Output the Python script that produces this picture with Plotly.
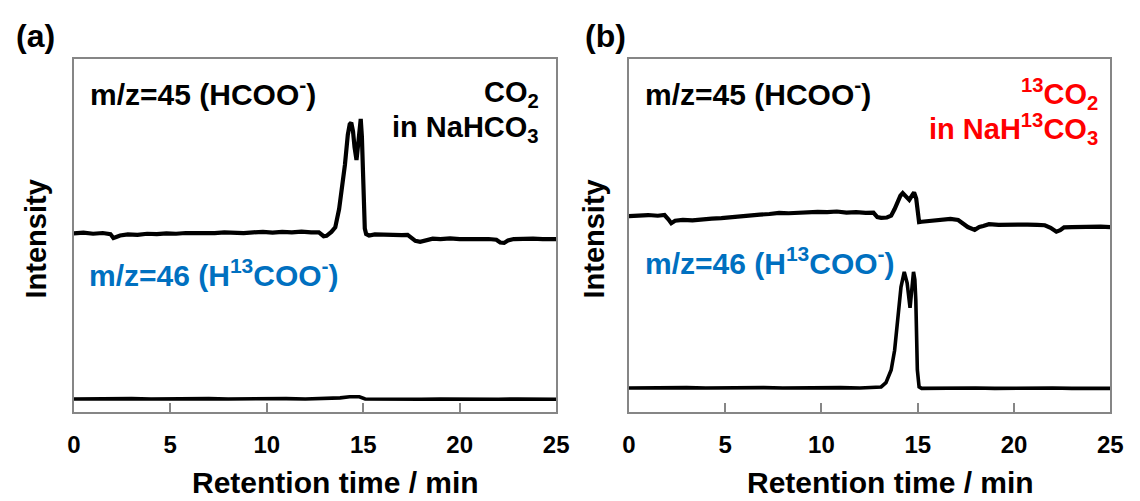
import plotly.graph_objects as go

# ---- chromatogram data (retention time in min, intensity in arbitrary units) ----
time_a45 = [0.0, 0.5, 1.0, 1.5, 1.9, 2.05, 2.2, 2.4, 2.8, 3.3, 3.8, 4.3, 4.8, 5.3, 5.8, 6.3,
            6.8, 7.3, 7.8, 8.3, 8.8, 9.3, 9.8, 10.3, 10.8, 11.3, 11.8, 12.3, 12.7, 12.95, 13.1,
            13.35, 13.55, 13.75, 13.9, 14.05, 14.2, 14.3, 14.38, 14.47, 14.55, 14.65, 14.73,
            14.8, 14.87, 14.93, 14.98, 15.03, 15.08, 15.15, 15.3, 15.6, 16.0, 16.5, 17.0, 17.3,
            17.5, 17.7, 17.95, 18.2, 18.6, 19.0, 19.5, 20.0, 20.5, 21.0, 21.5, 21.9, 22.1, 22.3,
            22.5, 22.8, 23.3, 23.8, 24.3, 24.8, 25.0]
int_a45 = [50.6, 50.8, 50.5, 50.7, 50.4, 49.3, 49.6, 50.0, 50.3, 50.2, 50.5, 50.4, 50.6, 50.5,
           50.7, 50.6, 50.8, 50.7, 50.9, 50.8, 50.7, 50.9, 51.0, 50.8, 51.0, 50.9, 51.1, 50.9,
           50.9, 49.8, 49.9, 51.0, 52.3, 57.5, 63.5, 70.0, 78.5, 81.5, 82.0, 79.5, 75.0, 71.4,
           75.5, 81.0, 83.0, 78.0, 68.0, 58.0, 52.0, 50.4, 50.0, 50.3, 50.2, 50.3, 50.1, 50.2,
           49.4, 48.5, 48.2, 48.6, 49.1, 49.0, 49.2, 49.0, 49.1, 48.9, 49.0, 48.8, 48.0, 47.9,
           48.6, 49.0, 48.9, 49.1, 49.0, 49.1, 49.0]

time_a46 = [0, 1, 2, 3, 4, 5, 6, 7, 8, 9, 10, 11, 12, 13, 13.8, 14.3, 14.8, 15.1, 16, 17, 18,
            19, 20, 21, 22, 23, 24, 25]
int_a46 = [3.7, 3.8, 3.7, 3.8, 3.7, 3.8, 3.7, 3.8, 3.7, 3.8, 3.7, 3.8, 3.7, 3.8, 4.0, 4.3, 4.3,
           3.7, 3.6, 3.7, 3.6, 3.7, 3.6, 3.7, 3.6, 3.7, 3.6, 3.6]

time_b45 = [0.0, 0.5, 1.0, 1.5, 1.85, 2.05, 2.2, 2.4, 2.8, 3.3, 3.8, 4.3, 4.8, 5.3, 5.8, 6.3,
            6.8, 7.3, 7.8, 8.3, 8.8, 9.3, 9.8, 10.3, 10.8, 11.3, 11.8, 12.3, 12.7, 12.9, 13.1,
            13.4, 13.62, 13.8, 13.96, 14.1, 14.22, 14.4, 14.56, 14.7, 14.81, 14.92, 14.98,
            15.07, 15.2, 15.5, 16.0, 16.7, 17.1, 17.35, 17.6, 17.96, 18.2, 18.4, 18.7, 19.2,
            19.7, 20.2, 20.7, 21.2, 21.6, 21.9, 22.2, 22.4, 22.6, 23.0, 23.5, 24.0, 24.5, 25.0]
int_b45 = [55.5, 55.7, 55.8, 55.6, 55.8, 54.6, 53.5, 54.2, 54.4, 54.3, 54.6, 54.8, 54.9, 55.2,
           55.4, 55.6, 55.9, 56.1, 56.4, 56.3, 56.5, 56.4, 56.7, 56.6, 56.8, 56.5, 56.6, 56.4,
           56.5, 55.2, 55.0, 55.1, 55.6, 57.5, 59.5, 61.3, 62.0, 60.8, 60.1, 61.3, 62.2, 60.5,
           56.7, 53.8, 53.9, 54.1, 54.4, 54.7, 54.4, 53.5, 52.4, 51.6, 52.4, 52.7, 53.2, 53.0,
           53.1, 52.9, 53.1, 53.0, 52.9, 52.2, 51.1, 51.5, 52.3, 52.4, 52.5, 52.3, 52.5, 52.4]

time_b46 = [0, 1, 2, 3, 4, 5, 6, 7, 8, 9, 10, 11, 12, 12.8, 13.1, 13.35, 13.62, 13.8, 13.96,
            14.13, 14.3, 14.45, 14.6, 14.7, 14.78, 14.85, 14.9, 14.98, 15.07, 15.2, 16, 17, 18,
            19, 20, 21, 22, 23, 24, 25]
int_b46 = [6.8, 6.9, 6.8, 6.9, 6.8, 6.9, 6.8, 6.9, 6.8, 6.9, 6.8, 6.9, 6.8, 6.9, 7.1, 8.3, 11.9,
           17.5, 26.1, 35.4, 39.7, 36.5, 29.5, 34.0, 39.7, 37.5, 31.7, 11.9, 7.1, 6.7, 6.8, 6.7,
           6.8, 6.7, 6.8, 6.7, 6.8, 6.7, 6.8, 6.7]

x_ticks = [0, 5, 10, 15, 20, 25]
x_title = "Retention time / min"
y_title = "Intensity"

# ---- layout helpers (pixel positions -> paper fractions) ----
W, H = 1140, 501
FONT = "Liberation Sans, Arial, sans-serif"
BLUE = "#0070C0"
RED = "#FF0000"
FRAME = "#868686"


def px(x):
    return x / W


def py(y):
    return 1 - y / H


fig = go.Figure()
thick = dict(color="black", width=4.2)
thin = dict(color="black", width=3.6)
fig.add_trace(go.Scatter(x=time_a45, y=int_a45, mode="lines", line=thick,
                         xaxis="x", yaxis="y", showlegend=False))
fig.add_trace(go.Scatter(x=time_a46, y=int_a46, mode="lines", line=thin,
                         xaxis="x", yaxis="y", showlegend=False))
fig.add_trace(go.Scatter(x=time_b45, y=int_b45, mode="lines", line=thick,
                         xaxis="x2", yaxis="y2", showlegend=False))
fig.add_trace(go.Scatter(x=time_b46, y=int_b46, mode="lines", line=thin,
                         xaxis="x2", yaxis="y2", showlegend=False))

xaxis_common = dict(range=[0, 25], tickvals=x_ticks, ticks="inside", ticklen=9, tickwidth=1.5,
                    tickcolor=FRAME, showline=True, linecolor=FRAME, linewidth=1.5, mirror=True,
                    showgrid=False, zeroline=False, ticklabelstandoff=10,
                    tickfont=dict(family=FONT, size=24, color="black", weight="bold"))
yaxis_common = dict(range=[0, 100], showticklabels=False, ticks="", showline=True,
                    linecolor=FRAME, linewidth=1.5, mirror=True, showgrid=False, zeroline=False)

y_dom = [py(412), py(59)]
fig.update_layout(
    width=W, height=H, margin=dict(l=0, r=0, t=0, b=0),
    paper_bgcolor="white", plot_bgcolor="white",
    xaxis=dict(domain=[px(68), px(559)], anchor="y", **xaxis_common),
    yaxis=dict(domain=y_dom, anchor="x", **yaxis_common),
    xaxis2=dict(domain=[px(633), px(1123)], anchor="y2", **xaxis_common),
    yaxis2=dict(domain=y_dom, anchor="x2", **yaxis_common),
)


def label(text, x, y, size, color="black", xanchor="left", angle=0):
    fig.add_annotation(text=text, x=px(x), y=py(y), xref="paper", yref="paper",
                       xanchor=xanchor, yanchor="middle", showarrow=False, textangle=angle,
                       borderpad=0,
                       font=dict(family=FONT, size=size, color=color, weight="bold"))


# panel letters
label("(a)", 8, 36, 32)
label("(b)", 587, 36, 32)

# axis titles
label(y_title, 30, 239, 29, xanchor="center", angle=-90)
label(y_title, 597, 239, 29, xanchor="center", angle=-90)
label(x_title, 334, 482, 30, xanchor="center")
label(x_title, 899, 482, 30, xanchor="center")

# trace labels, panel (a)
label("m/z=45 (HCOO<sup>-</sup>)", 83, 92, 30)
label("CO<sub>2</sub>", 543, 94, 29, xanchor="right")
label("in NaHCO<sub>3</sub>", 543, 129, 29, xanchor="right")
label("m/z=46 (H<sup>13</sup>COO<sup>-</sup>)", 82, 273, 30, color=BLUE)

# trace labels, panel (b)
label("m/z=45 (HCOO<sup>-</sup>)", 648, 92, 30)
label("<sup>13</sup>CO<sub>2</sub>", 1111, 94, 29, color=RED, xanchor="right")
label("in NaH<sup>13</sup>CO<sub>3</sub>", 1111, 129, 29, color=RED, xanchor="right")
label("m/z=46 (H<sup>13</sup>COO<sup>-</sup>)", 648, 261, 30, color=BLUE)

fig.write_html("out.html")
